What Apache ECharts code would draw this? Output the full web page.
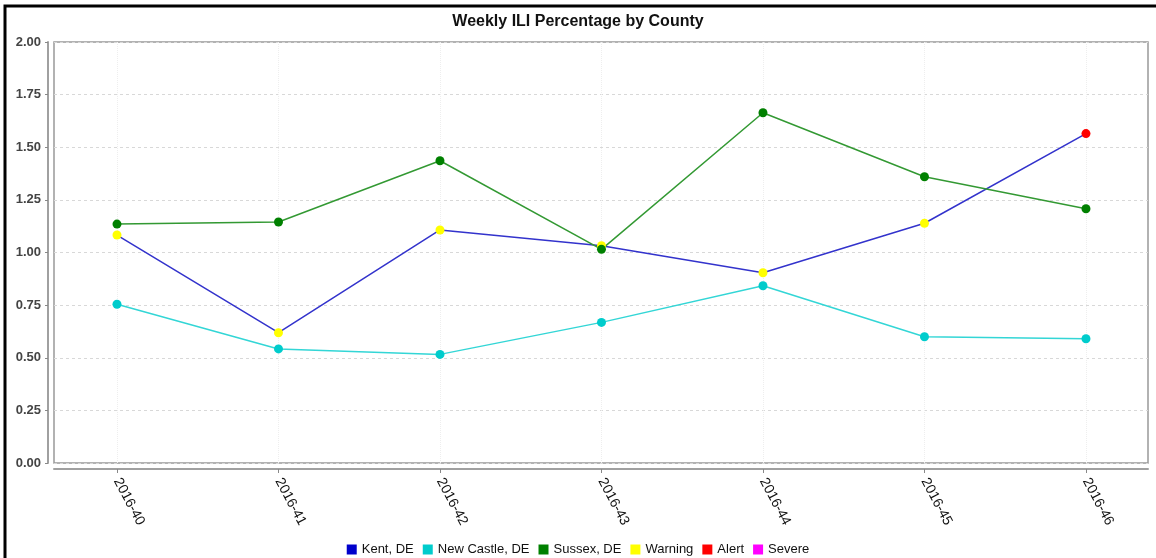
<!DOCTYPE html>
<html>
<head>
<meta charset="utf-8">
<script src="https://cdn.jsdelivr.net/npm/echarts@6/dist/echarts.min.js"></script>
<style>
  html, body { margin: 0; padding: 0; background: #fff; }
  #chart { width: 1156px; height: 558px; }
</style>
</head>
<body>
<div id="chart"></div>
<script>
// weekly ILI data
const weeks = ['2016-40', '2016-41', '2016-42', '2016-43', '2016-44', '2016-45', '2016-46'];
const kent = [1.083, 0.619, 1.107, 1.032, 0.904, 1.139, 1.565];
const newCastle = [0.754, 0.542, 0.516, 0.668, 0.842, 0.600, 0.590];
const sussex = [1.135, 1.145, 1.436, 1.015, 1.664, 1.360, 1.208];
// alert level per point ('' = normal)
const kentLevel = ['Warning', 'Warning', 'Warning', 'Warning', 'Warning', 'Warning', 'Alert'];
const newCastleLevel = ['', '', '', '', '', '', ''];
const sussexLevel = ['', '', '', '', '', '', ''];
const yTicks = [0, 0.25, 0.5, 0.75, 1, 1.25, 1.5, 1.75, 2];

const levelColors = { Warning: '#ffff00', Alert: '#ff0000', Severe: '#ff00ff' };
const font = 'Liberation Sans, Arial, sans-serif';

function points(values, levels) {
  return values.map(function (v, i) {
    let p = { value: [i, v] };
    if (levels[i]) p.itemStyle = { color: levelColors[levels[i]] };
    return p;
  });
}

function lineSeries(name, color, lineColor, values, levels) {
  return {
    name: name,
    type: 'line',
    data: points(values, levels),
    color: color,
    symbol: 'circle',
    symbolSize: 9,
    lineStyle: { width: 1.5, color: lineColor },
    itemStyle: { color: color, borderWidth: 0 },
    emphasis: { disabled: true },
    animation: false
  };
}

function legendOnly(name) {
  return { name: name, type: 'line', data: [], color: levelColors[name], animation: false };
}

let myChart = echarts.init(document.getElementById('chart'));
myChart.setOption({
  backgroundColor: '#fff',
  textStyle: { fontFamily: font },
  title: {
    text: 'Weekly ILI Percentage by County',
    left: 'center',
    top: 9,
    textStyle: { fontSize: 16, fontWeight: 'bold', color: '#111', fontFamily: font }
  },
  graphic: [{
    type: 'rect',
    shape: { x: 5, y: 6, width: 1200, height: 600 },
    style: { fill: null, stroke: '#000', lineWidth: 3 },
    silent: true
  }],
  legend: {
    bottom: -3,
    left: 'center',
    icon: 'rect',
    itemWidth: 10,
    itemHeight: 10,
    itemGap: 9,
    textStyle: { fontSize: 13, color: '#111', fontFamily: font },
    data: ['Kent, DE', 'New Castle, DE', 'Sussex, DE', 'Warning', 'Alert', 'Severe']
  },
  grid: {
    left: 54,
    right: 8,
    top: 42,
    bottom: 95,
    show: true,
    backgroundColor: '#fff',
    borderColor: '#999999',
    borderWidth: 1.5
  },
  xAxis: {
    type: 'value',
    min: -0.39,
    max: 6.384,
    offset: 6,
    axisLine: { show: true, onZero: false, lineStyle: { color: '#a0a0a0', width: 2 } },
    axisTick: { show: true, length: 4, customValues: weeks.map((w, i) => i), lineStyle: { color: '#888' } },
    axisLabel: {
      customValues: weeks.map((w, i) => i),
      formatter: function (v) { return weeks[Math.round(v)]; },
      rotate: -62,
      fontSize: 14,
      color: '#111',
      margin: 10,
      fontFamily: font
    },
    splitLine: { show: true, lineStyle: { color: '#eeeeee', type: 'dotted' } }
  },
  yAxis: {
    type: 'value',
    min: yTicks[0],
    max: yTicks[yTicks.length - 1],
    interval: 0.25,
    offset: 6,
    axisLine: { show: true, onZero: false, lineStyle: { color: '#a0a0a0', width: 2 } },
    axisTick: { show: true, length: 3, lineStyle: { color: '#888' } },
    axisLabel: {
      formatter: function (v) { return v.toFixed(2); },
      fontSize: 13,
      fontWeight: 'bold',
      color: '#444',
      margin: 7,
      fontFamily: font
    },
    splitLine: { show: true, lineStyle: { color: '#d8d8d8', type: [3, 3] } }
  },
  series: [
    lineSeries('Kent, DE', '#0000cc', '#3333cc', kent, kentLevel),
    lineSeries('New Castle, DE', '#00cccc', '#33d6d6', newCastle, newCastleLevel),
    lineSeries('Sussex, DE', '#008000', '#339933', sussex, sussexLevel),
    legendOnly('Warning'),
    legendOnly('Alert'),
    legendOnly('Severe')
  ]
});
</script>
</body>
</html>
